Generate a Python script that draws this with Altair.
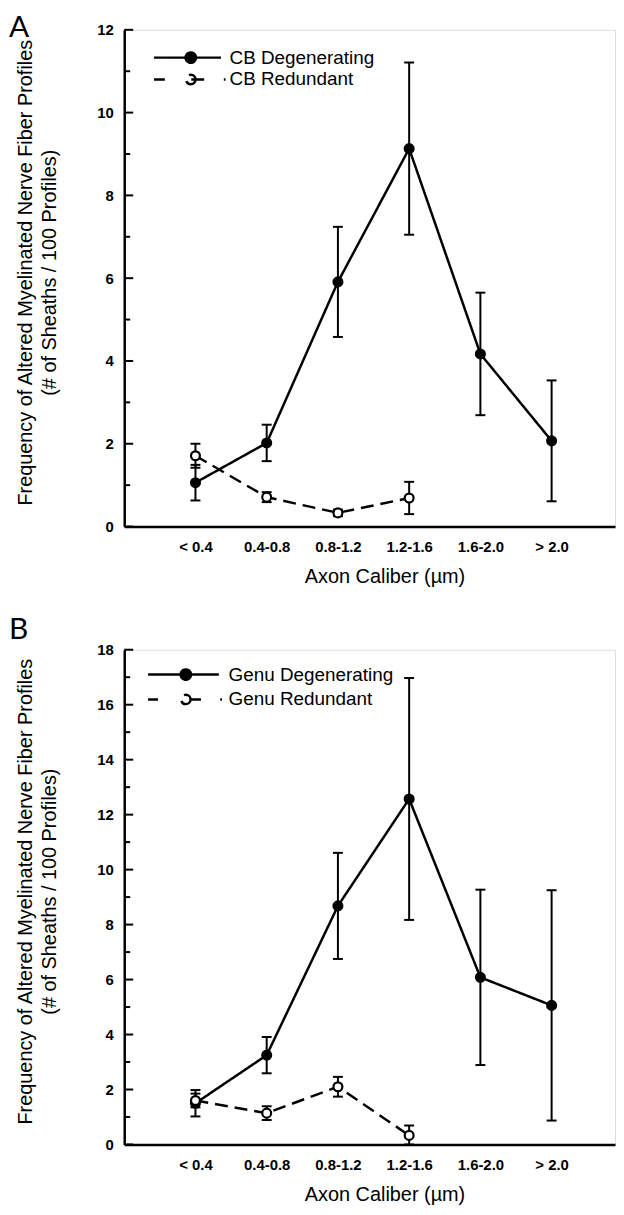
import json
import altair as alt
import pandas as pd

categories = ["< 0.4", "0.4-0.8", "0.8-1.2", "1.2-1.6", "1.6-2.0", "> 2.0"]

cb_deg = [1.06, 2.02, 5.91, 9.13, 4.17, 2.07]
cb_deg_err = [0.43, 0.44, 1.33, 2.08, 1.48, 1.46]
cb_red = [1.71, 0.71, 0.33, 0.69]
cb_red_err = [0.29, 0.12, 0.08, 0.39]

genu_deg = [1.50, 3.25, 8.68, 12.57, 6.08, 5.06]
genu_deg_err = [0.48, 0.66, 1.93, 4.40, 3.19, 4.19]
genu_red = [1.60, 1.14, 2.10, 0.33]
genu_red_err = [0.25, 0.25, 0.36, 0.36]

y_title = ["Frequency of Altered Myelinated Nerve Fiber Profiles",
           "(# of Sheaths  / 100 Profiles)"]
x_title = "Axon Caliber (\u00b5m)"

FONT = "Liberation Sans"


def circle(r):
    return "M{0},0A{0},{0} 0 1,1 -{0},0A{0},{0} 0 1,1 {0},0Z".format(r)


# legend symbols (unit path, scaled by sqrt(size)/2 = 9.5 px)
DOT = " ".join(circle(r) for r in (0.55, 0.4, 0.25, 0.1))
SYM_SOLID_A = "M-3.9,0L3.2,0 " + DOT
SYM_DASH_A = "M-3.9,0L-2.75,0 M0.05,0L1.5,0 M3.5,0L3.68,0 " + circle(0.5)
SYM_SOLID_B = "M-4.0,0L3.5,0 " + DOT
SYM_DASH_B = "M-4.0,0L-2.95,0 M0.55,0L1.6,0 M3.65,0L3.83,0 " + circle(0.5)


def panel(letter, names, deg, deg_err, red, red_err, ymax, height,
          sym, legend_x, legend_y, label_off, row_pad, title_dy):
    rows = []
    for i, (v, e) in enumerate(zip(deg, deg_err)):
        rows.append(dict(pos=i + 1, series=names[0], value=v, lo=max(0, v - e), hi=v + e))
    for i, (v, e) in enumerate(zip(red, red_err)):
        rows.append(dict(pos=i + 1, series=names[1], value=v, lo=max(0, v - e), hi=v + e))
    df = pd.DataFrame(rows)

    major = pd.DataFrame({"t": list(range(0, ymax + 1, 2))})
    minor = pd.DataFrame({"t": list(range(1, ymax, 2))})

    xscale = alt.Scale(domain=[0, 6.89], nice=False, zero=False)
    yscale = alt.Scale(domain=[0, ymax], nice=False, zero=True)

    xaxis = alt.Axis(values=[1, 2, 3, 4, 5, 6],
                     labelExpr=json.dumps(categories) + "[round(datum.value) - 1]",
                     ticks=False, grid=False, domainColor="black", domainWidth=2.5,
                     labelFont=FONT, labelFontSize=15, labelFontWeight="bold",
                     labelColor="black", labelPadding=13, labelFlush=False,
                     title=x_title, titleFont=FONT, titleFontSize=20,
                     titleFontWeight="normal", titleColor="black", titlePadding=12,
                     titleX=262)
    yaxis = alt.Axis(values=list(range(0, ymax + 1, 2)), format="d", ticks=False,
                     grid=False, domainColor="black", domainWidth=2.5,
                     labelFont=FONT, labelFontSize=15, labelFontWeight="bold",
                     labelColor="black", labelPadding=11,
                     title=y_title, titleFont=FONT, titleFontSize=20,
                     titleFontWeight="normal", titleColor="black",
                     titleLineHeight=25, titlePadding=37, titleY=height / 2 - 6)

    X = alt.X("pos:Q", scale=xscale, axis=xaxis)
    Y = alt.Y("value:Q", scale=yscale, axis=yaxis)

    fill_scale = alt.Scale(domain=names, range=["black", "white"])
    shape_scale = alt.Scale(domain=names, range=sym)
    dash_scale = alt.Scale(domain=names, range=[[1, 0], [13, 7]])

    leg = alt.Legend(title=None, orient="none", legendX=legend_x, legendY=legend_y,
                     labelFont=FONT, labelFontSize=19, labelColor="black",
                     labelOffset=label_off, labelLimit=400, symbolSize=361,
                     symbolStrokeColor="black", symbolStrokeWidth=2.5,
                     symbolFillColor="white", symbolOpacity=1,
                     rowPadding=row_pad, padding=0, values=names)

    base = alt.Chart(df)

    line = base.mark_line(color="black", strokeWidth=2.5).encode(
        x=X, y=Y,
        strokeDash=alt.StrokeDash("series:N", scale=dash_scale, legend=None),
        detail="series:N", order="pos:Q")

    bars = base.mark_rule(color="black", strokeWidth=2).encode(
        x=X, y=alt.Y("lo:Q", scale=yscale, axis=yaxis), y2="hi:Q")
    cap_lo = base.mark_tick(color="black", orient="horizontal", size=10,
                            thickness=2, opacity=1).encode(
        x=X, y=alt.Y("lo:Q", scale=yscale, axis=yaxis))
    cap_hi = base.mark_tick(color="black", orient="horizontal", size=10,
                            thickness=2, opacity=1).encode(
        x=X, y=alt.Y("hi:Q", scale=yscale, axis=yaxis))

    pts = base.mark_point(filled=True, size=80, shape="circle", stroke="black",
                          strokeWidth=2.2, opacity=1).encode(
        x=X, y=Y,
        fill=alt.Fill("series:N", scale=fill_scale, legend=None))

    legend_layer = base.mark_point(
        filled=False, color="black", strokeWidth=2, opacity=0).encode(
        x=X, y=Y,
        shape=alt.Shape("series:N", scale=shape_scale, legend=leg))

    tick_major = alt.Chart(major).mark_rule(color="black", strokeWidth=2).encode(
        y=alt.Y("t:Q", scale=yscale, axis=yaxis), x=alt.value(0), x2=alt.value(9))
    tick_minor = alt.Chart(minor).mark_rule(color="black", strokeWidth=2).encode(
        y=alt.Y("t:Q", scale=yscale, axis=yaxis), x=alt.value(0), x2=alt.value(6))

    return alt.layer(legend_layer, tick_major, tick_minor, line, bars, cap_lo, cap_hi,
                     pts).properties(
        width=494, height=height,
        title=alt.TitleParams(letter, anchor="start", frame="group", font="Lato",
                              fontSize=30, fontWeight="normal", color="black",
                              dx=-116, dy=title_dy, offset=0))


pa = panel("A", ["CB Degenerating", "CB Redundant"], cb_deg, cb_deg_err,
           cb_red, cb_red_err, 12, 500, [SYM_SOLID_A, SYM_DASH_A],
           56, 17, 28, 0, 20)
pb = panel("B", ["Genu Degenerating", "Genu Redundant"], genu_deg, genu_deg_err,
           genu_red, genu_red_err, 18, 498, [SYM_SOLID_B, SYM_DASH_B],
           51, 14, 32, 3, 2)

chart = alt.vconcat(pa, pb, spacing=27).resolve_scale(
    fill="independent", shape="independent", strokeDash="independent",
    x="independent", y="independent").properties(padding=0).configure_view(
    stroke=None).configure(background="white")

chart.save("out.html", embed_options={"renderer": "svg", "actions": False})
